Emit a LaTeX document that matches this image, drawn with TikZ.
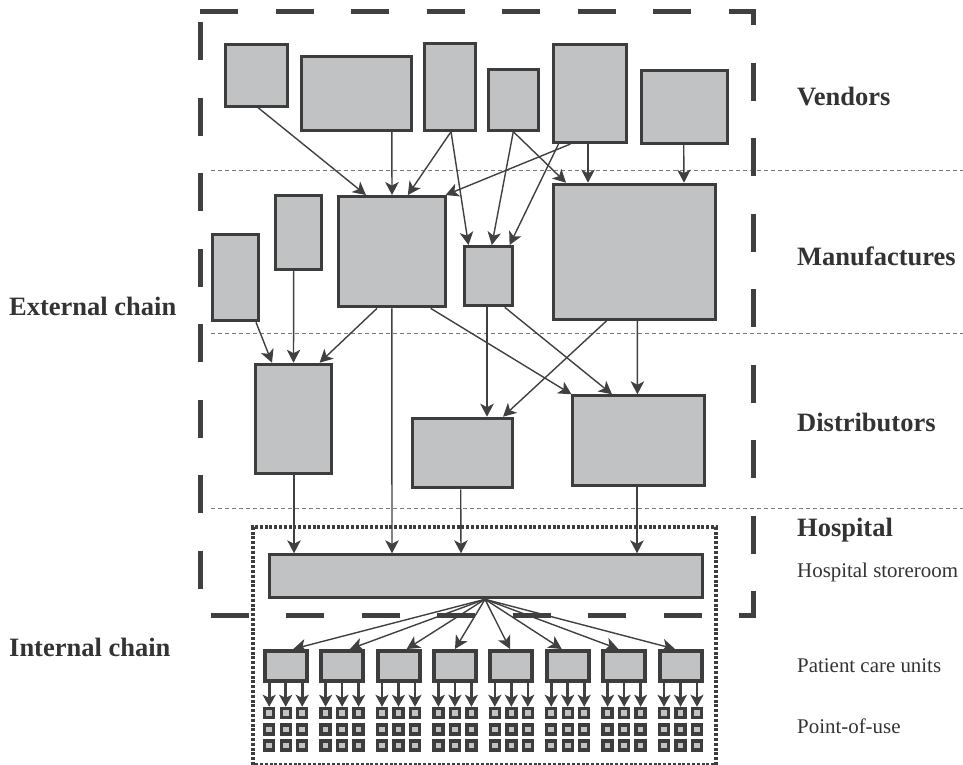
\documentclass[tikz,border=0pt]{standalone}
\usepackage{fontspec}
\setmainfont{Liberation Serif}
\usetikzlibrary{arrows.meta}
\definecolor{boxfill}{HTML}{C1C2C4}
\definecolor{boxline}{HTML}{3D3D3D}
\definecolor{conncol}{HTML}{404040}
\definecolor{txtcol}{HTML}{333333}
\definecolor{sepcol}{HTML}{7A7A7A}
\begin{document}
\begin{tikzpicture}[x=1pt,y=-1pt,
  box/.style={draw=boxline, fill=boxfill, line width=3pt, inner sep=0pt, outer sep=1.5pt},
  unitbox/.style={box, line width=4pt, outer sep=2pt, minimum width=42pt, minimum height=30pt},
  pou/.style={box, line width=3.4pt, outer sep=1.7pt, minimum width=9pt, minimum height=9pt},
  conn/.style={draw=conncol, line width=1.4pt, -{Stealth[length=13pt,width=13.5pt,inset=3.5pt]}},
  feed/.style={draw=conncol, line width=2.6pt, -{Stealth[length=12pt,width=13pt,inset=3pt]}},
  sep/.style={draw=sepcol, line width=1pt, dash pattern=on 4pt off 3pt},
  title/.style={anchor=base west, inner sep=0pt, text=txtcol, font=\fontsize{26.5}{30}\selectfont\bfseries},
  sub/.style={anchor=base west, inner sep=0pt, text=txtcol, font=\fontsize{20.9}{24}\selectfont}]
\useasboundingbox (0,0) rectangle (963,765);
\clip (0,0) rectangle (963,765);

% layer separators
\draw[sep] (211,170) -- (963,170);
\draw[sep] (211,333.5) -- (963,333.5);
\draw[sep] (211,508) -- (963,508);

% external chain frame
\draw[draw=conncol, line width=5pt, dash pattern=on 38pt off 37.5pt]
  (200,11.7) -- (753,11.7) -- (753,615.5) -- (200,615.5) -- cycle;
% internal chain frame
\draw[draw=boxline, line width=3.4pt, dash pattern=on 3pt off 1.8pt]
  (253,765) -- (253,527) -- (716,527) -- (716,765) -- cycle;

% vendors
\node[box, minimum width=62.3pt, minimum height=62pt]   (V1) at (256.6,75.2) {};
\node[box, minimum width=109.9pt, minimum height=73.7pt] (V2) at (356.9,93.4) {};
\node[box, minimum width=50.7pt, minimum height=86.4pt] (V3) at (450.2,87) {};
\node[box, minimum width=50pt, minimum height=61pt]     (V4) at (513.9,99.7) {};
\node[box, minimum width=73.2pt, minimum height=97.7pt] (V5) at (590,93.7) {};
\node[box, minimum width=85.9pt, minimum height=72.7pt] (V6) at (684.4,107.2) {};

% manufacturers
\node[box, minimum width=46.3pt, minimum height=86pt]    (M1) at (235.7,277.8) {};
\node[box, minimum width=45.9pt, minimum height=73.7pt]  (M2) at (298.9,232.3) {};
\node[box, minimum width=106.3pt, minimum height=110.3pt] (M3) at (392,251.7) {};
\node[box, minimum width=47.8pt, minimum height=59.3pt]  (M4) at (488.7,276.2) {};
\node[box, minimum width=162.1pt, minimum height=135pt]  (M5) at (634.4,251.7) {};

% distributors
\node[box, minimum width=76.6pt, minimum height=109.6pt] (D1) at (293.5,419) {};
\node[box, minimum width=100.3pt, minimum height=69.6pt] (D2) at (462.8,453) {};
\node[box, minimum width=131.9pt, minimum height=90pt]   (D3) at (638.1,440.8) {};

% hospital storeroom
\node[box, minimum width=433pt, minimum height=43pt] (store) at (486,576.3) {};

% vendors -> manufacturers
\draw[conn] ([xshift=1.5pt]V1.south)   -- ([xshift=-26pt]M3.north);
\draw[conn] ([xshift=34.9pt]V2.south)  -- ([xshift=0pt]M3.north);
\draw[conn] ([xshift=0.8pt]V3.south)   -- ([xshift=15.8pt]M3.north);
\draw[conn] ([xshift=0.8pt]V3.south)   -- ([xshift=-20.2pt]M4.north);
\draw[conn] ([xshift=-0.6pt]V4.south)  -- ([xshift=3.1pt]M4.north);
\draw[conn] ([xshift=-0.6pt]V4.south)  -- ([xshift=-68.4pt]M5.north);
\draw[conn] ([xshift=-19.6pt]V5.south) -- ([xshift=53.6pt]M3.north);
\draw[conn] ([xshift=-31.5pt]V5.south) -- ([xshift=20.9pt]M4.north);
\draw[conn] ([xshift=-2pt]V5.south)    -- ([xshift=-46.4pt]M5.north);
\draw[conn] ([xshift=-0.7pt]V6.south)  -- ([xshift=49.6pt]M5.north);

% manufacturers -> distributors
\draw[conn] ([xshift=20.3pt]M1.south)  -- ([xshift=-21.5pt]D1.north);
\draw[conn] ([xshift=-5.2pt]M2.south)  -- ([xshift=0pt]D1.north);
\draw[conn] ([xshift=-15pt]M3.south)   -- ([xshift=26.1pt]D1.north);
\draw[conn] ([xshift=38.7pt]M3.south)  -- ([xshift=-66.6pt]D3.north);
\draw[conn] ([xshift=-1.7pt]M4.south)  -- ([xshift=24.2pt]D2.north);
\draw[conn] ([xshift=16.1pt]M4.south)  -- ([xshift=-26.1pt]D3.north);
\draw[conn] ([xshift=-27.7pt]M5.south) -- ([xshift=40.2pt]D2.north);
\draw[conn] ([xshift=3pt]M5.south)     -- ([xshift=-0.7pt]D3.north);

% into the hospital storeroom
\draw[conn] ([xshift=0.5pt]D1.south)   -- ([xshift=-192pt]store.north);
\draw[conn] ([xshift=-0.2pt]M3.south)  -- ([xshift=-94pt]store.north);
\draw[conn] ([xshift=-2.1pt]D2.south)  -- ([xshift=-25pt]store.north);
\draw[conn] ([xshift=-1.1pt]D3.south)  -- ([xshift=151pt]store.north);

% patient care units and points of use
\foreach \i/\tx in {0/293.3, 1/350, 2/406.7, 3/455, 4/510, 5/561.7, 6/618.3, 7/675} {
  \pgfmathsetmacro\cx{285.7+56.4*\i}
  \pgfmathsetmacro\dx{\tx-\cx}
  \node[unitbox] (u\i) at (\cx,666) {};
  \draw[conn] ([xshift=-1pt]store.south) -- ([xshift=\dx pt]u\i.north);
  \foreach \c in {1,2,3} {
    \foreach \r in {1,2,3} {
      \node[pou] (p\i-\c-\r) at ({\cx+16.5*(\c-2)},{713+16.3*(\r-1)}) {};
    }
    \draw[feed] (u\i.south -| p\i-\c-1.north) -- (p\i-\c-1.north);
  }
}

% labels
\node[title] (lV) at (797,105.7) {Vendors};
\node[title] (lM) at (797,265) {Manufactures};
\node[title] (lD) at (797,431) {Distributors};
\node[title] (lH) at (797,536) {Hospital};
\node[sub]   (lS) at (797,577.7) {Hospital storeroom};
\node[sub]   (lP) at (797,672) {Patient care units};
\node[sub]   (lU) at (797,733) {Point-of-use};
\node[title] (lE) at (9,315) {External chain};
\node[title] (lI) at (9,656.7) {Internal chain};
\end{tikzpicture}
\end{document}
